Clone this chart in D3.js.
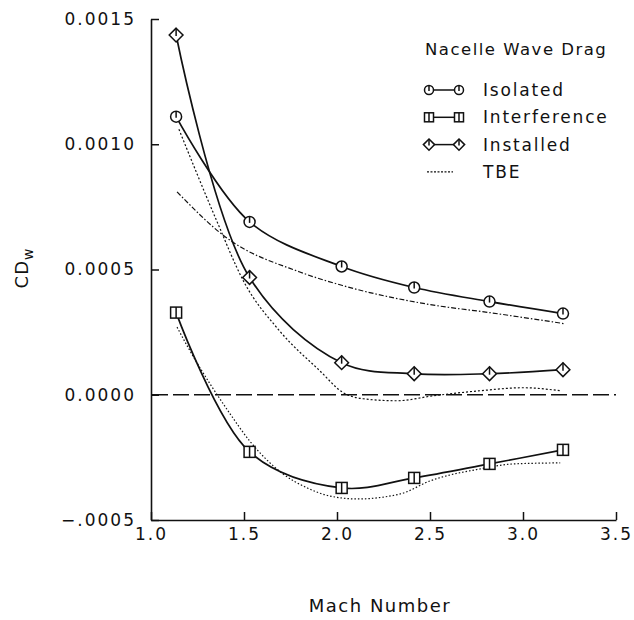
<!DOCTYPE html>
<html><head><meta charset="utf-8">
<script src="https://cdn.jsdelivr.net/npm/d3@7"></script>
<style>
body{margin:0;background:#fff}
svg text{font-family:"DejaVu Sans",sans-serif;fill:#111}
</style>
</head><body>
<svg id="c" width="634" height="620"></svg>
<script>
// ---- data ----
const mach = [1.135, 1.53, 2.025, 2.415, 2.82, 3.215];
const isolated = [0.00111, 0.00069, 0.000512, 0.000428, 0.000372, 0.000324];
const interference = [0.000328, -0.000228, -0.000372, -0.000332, -0.000276, -0.00022];
const installed = [0.001436, 0.000468, 0.000128, 0.000084, 0.000084, 0.0001];

const tbeIsoMach = [1.14, 1.4, 1.8, 2.03, 2.5, 2.82, 3.22];
const tbeIso = [0.00081, 0.00063, 0.00049, 0.000436, 0.00036, 0.000328, 0.000284];
const tbeIntMach = [1.14, 1.2, 1.263, 1.317, 1.425, 1.53, 1.71, 1.84, 1.96, 2.11, 2.34, 2.5, 2.77, 2.95, 3.2];
const tbeInt = [0.00027, 0.000188, 0.000108, 0.000044, -0.000076, -0.000184, -0.000316, -0.000372, -0.000404, -0.000416, -0.000396, -0.000344, -0.000296, -0.000276, -0.000272];
const tbeInsMach = [1.15, 1.35, 1.5, 1.69, 1.91, 2.03, 2.14, 2.32, 2.52, 2.77, 3.0, 3.2];
const tbeIns = [0.00106, 0.0007, 0.00045, 0.000256, 0.000094, 0.00001, -0.000016, -0.000024, -0.000004, 0.000016, 0.000028, 0.000016];

const xTicks = [1.0, 1.5, 2.0, 2.5, 3.0, 3.5];
const xTickLabels = ["1.0", "1.5", "2.0", "2.5", "3.0", "3.5"];
const yTicks = [0.0015, 0.0010, 0.0005, 0.0, -0.0005];
const yTickLabels = ["0.0015", "0.0010", "0.0005", "0.0000", "\u2212.0005"];

const legendTitle = "Nacelle Wave Drag";
const legendNames = ["Isolated", "Interference", "Installed", "TBE"];
const legendTypes = ["circle", "square", "diamond", "dotted"];

// ---- drawing ----
const svg = d3.select("#c");
const x = d3.scaleLinear().domain([1.0, 3.5]).range([151, 616]);
const y = d3.scaleLinear().domain([-0.0005, 0.0015]).range([520, 19]);

const ax = svg.append("g").attr("transform", "translate(0,520)")
  .call(d3.axisBottom(x).tickValues(xTicks).tickFormat((d, i) => xTickLabels[i])
    .tickSizeInner(-8).tickSizeOuter(0).tickPadding(8));
const ay = svg.append("g").attr("transform", "translate(151,0)")
  .call(d3.axisLeft(y).tickValues(yTicks).tickFormat((d, i) => yTickLabels[i])
    .tickSizeInner(-8).tickSizeOuter(0).tickPadding(15));
[ax, ay].forEach(g => {
  g.selectAll("path.domain").attr("stroke", "#111").attr("stroke-width", 1.6);
  g.selectAll(".tick line").attr("stroke", "#111").attr("stroke-width", 1.5);
  g.selectAll(".tick text").style("font-size", "17px").style("letter-spacing", "2px")
    .style("font-family", "'DejaVu Sans',sans-serif").attr("fill", "#111");
});

// zero line
svg.append("line").attr("x1", x(1.0) + 1).attr("x2", x(3.5)).attr("y1", y(0)).attr("y2", y(0))
  .attr("stroke", "#111").attr("stroke-width", 1.5).attr("stroke-dasharray", "16,5");

const lineXY = d3.line().x(d => x(d[0])).y(d => y(d[1])).curve(d3.curveCatmullRom.alpha(0.5));
const lineTBE = d3.line().x(d => x(d[0])).y(d => y(d[1])).curve(d3.curveMonotoneX);
const zip = (a, b) => a.map((v, i) => [v, b[i]]);

// TBE dotted
[[tbeIsoMach, tbeIso, "5,2,1.5,2"], [tbeInsMach, tbeIns, "2,2"], [tbeIntMach, tbeInt, "1.5,2"]].forEach(([m, v, da]) => {
  svg.append("path").attr("d", lineTBE(zip(m, v))).attr("fill", "none")
    .attr("stroke", "#111").attr("stroke-width", 1.2).attr("stroke-dasharray", da);
});

// solid series
const series = [[isolated, "circle"], [interference, "square"], [installed, "diamond"]];
series.forEach(([v]) => {
  svg.append("path").attr("d", lineXY(zip(mach, v))).attr("fill", "none")
    .attr("stroke", "#111").attr("stroke-width", 1.7);
});

function marker(type, cx, cy, s) {
  const g = svg.append("g").attr("fill", "#fff").attr("stroke", "#111").attr("stroke-width", 1.5);
  if (type === "circle") {
    g.append("circle").attr("cx", cx).attr("cy", cy).attr("r", s);
    g.append("line").attr("x1", cx).attr("x2", cx).attr("y1", cy - s).attr("y2", cy + 1);
  } else if (type === "square") {
    g.append("rect").attr("x", cx - s).attr("y", cy - s).attr("width", 2 * s).attr("height", 2 * s);
    g.append("line").attr("x1", cx).attr("x2", cx).attr("y1", cy - s).attr("y2", cy + s);
  } else if (type === "diamond") {
    const d = s * 1.25;
    g.append("path").attr("d", `M${cx},${cy - d}L${cx + d},${cy}L${cx},${cy + d}L${cx - d},${cy}Z`);
    g.append("line").attr("x1", cx).attr("x2", cx).attr("y1", cy - d).attr("y2", cy + 1);
  }
}
series.forEach(([v, t]) => {
  v.forEach((val, i) => marker(t, x(mach[i]), y(val), 5.5));
});

// legend
svg.append("text").attr("x", 425).attr("y", 55).style("font-size", "16.5px")
  .style("letter-spacing", "1.5px").text(legendTitle);
legendNames.forEach((name, i) => {
  const ly = 90 + i * 27.3;
  if (legendTypes[i] === "dotted") {
    svg.append("line").attr("x1", 427).attr("x2", 453).attr("y1", ly).attr("y2", ly)
      .attr("stroke", "#111").attr("stroke-width", 1.2).attr("stroke-dasharray", "2,1.5");
  } else {
    svg.append("line").attr("x1", 429).attr("x2", 459).attr("y1", ly).attr("y2", ly)
      .attr("stroke", "#111").attr("stroke-width", 1.5);
    marker(legendTypes[i], 429, ly, 4.5);
    marker(legendTypes[i], 459, ly, 4.5);
  }
  svg.append("text").attr("x", 483).attr("y", ly + 6).style("font-size", "17px")
    .style("letter-spacing", "1.8px").text(name);
});

// axis titles
svg.append("text").attr("x", 380).attr("y", 612).attr("text-anchor", "middle")
  .style("font-size", "18px").style("letter-spacing", "1.5px").text("Mach Number");
const yl = svg.append("text").attr("transform", "translate(28,268) rotate(-90)")
  .attr("text-anchor", "middle").style("font-size", "18px").style("letter-spacing", "1px");
yl.append("tspan").text("CD");
yl.append("tspan").attr("dy", 5).style("font-size", "14px").text("w");
</script>
</body></html>
